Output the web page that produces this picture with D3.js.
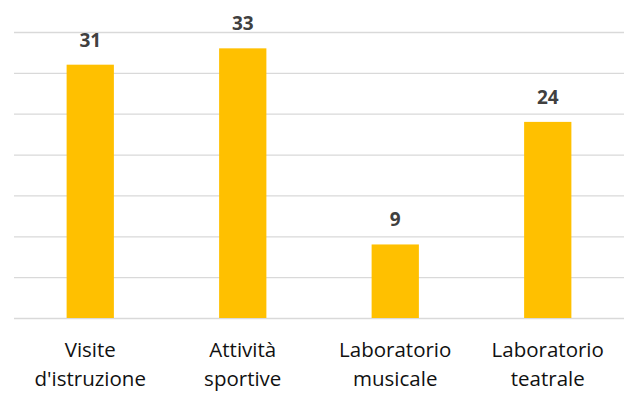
<!DOCTYPE html>
<html>
<head>
<meta charset="utf-8">
<script src="https://cdn.jsdelivr.net/npm/d3@7"></script>
<style>
  html, body { margin: 0; padding: 0; background: #fff; }
  svg { display: block; }
</style>
</head>
<body>
<svg id="chart" width="628" height="394"></svg>
<script>
// Activities and number of participants
const categories = [
  ["Visite", "d'istruzione"],
  ["Attività", "sportive"],
  ["Laboratorio", "musicale"],
  ["Laboratorio", "teatrale"]
];
const values = [31, 33, 9, 24];
const yTicks = [0, 5, 10, 15, 20, 25, 30, 35];

const svg = d3.select("#chart");
const plot = { left: 14, right: 624, top: 32, bottom: 318 };

const x = d3.scaleBand()
  .domain(d3.range(values.length))
  .range([plot.left, plot.right])
  .paddingInner(0.69)
  .paddingOuter(0.345);

const y = d3.scaleLinear().domain([0, 35]).range([plot.bottom, plot.top]);

// horizontal gridlines
const grid = svg.append("g")
  .attr("transform", `translate(${plot.left},0)`)
  .call(d3.axisLeft(y).tickValues(yTicks).tickSize(-(plot.right - plot.left)).tickFormat(""));
grid.select(".domain").remove();
grid.selectAll(".tick line").attr("stroke", "#d9d9d9").attr("stroke-width", 1.3);

// bars
svg.append("g").selectAll("rect")
  .data(values)
  .join("rect")
  .attr("x", (d, i) => x(i))
  .attr("width", x.bandwidth())
  .attr("y", d => y(d))
  .attr("height", d => y(0) - y(d))
  .attr("fill", "#ffc000");

// value labels
svg.append("g").selectAll("text")
  .data(values)
  .join("text")
  .attr("x", (d, i) => x(i) + x.bandwidth() / 2)
  .attr("y", d => y(d) - 18)
  .attr("text-anchor", "middle")
  .attr("font-family", "'Open Sans', sans-serif")
  .attr("font-weight", "bold")
  .attr("font-size", 19)
  .attr("fill", "#404040")
  .text(d => d);

// category labels
const cat = svg.append("g").selectAll("text")
  .data(categories)
  .join("text")
  .attr("text-anchor", "middle")
  .attr("font-family", "'Open Sans', sans-serif")
  .attr("font-size", 20.5)
  .attr("fill", "#111");
cat.selectAll("tspan")
  .data((d, i) => d.map(s => ({ s, i })))
  .join("tspan")
  .attr("x", d => x(d.i) + x.bandwidth() / 2)
  .attr("y", (d, j) => 357 + j * 28.5)
  .text(d => d.s);
</script>
</body>
</html>
